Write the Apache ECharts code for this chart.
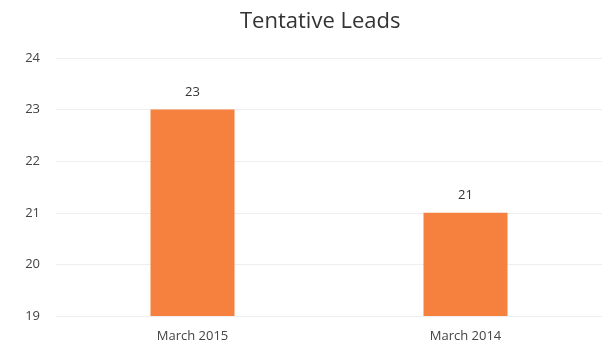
<!DOCTYPE html>
<html><head><meta charset="utf-8">
<script src="https://cdn.jsdelivr.net/npm/echarts@6/dist/echarts.min.js"></script>
<style>html,body{margin:0;padding:0;background:#fff}#c{width:616px;height:358px}</style>
</head><body><div id="c"></div>
<script>
const categories = ["March 2015", "March 2014"];
const leads = [23, 21];
const yTicks = [19, 20, 21, 22, 23, 24];

const chart = echarts.init(document.getElementById('c'));
chart.setOption({
  animation: false,
  backgroundColor: '#fff',
  title: { text: 'Tentative Leads', left: 235, top: 6,
    textStyle: { fontFamily: 'Open Sans', fontWeight: 'normal', fontSize: 22, color: '#333' } },
  grid: { left: 56, right: 14, top: 58, bottom: 42 },
  xAxis: { type: 'category', data: categories,
    axisLine: { show: false }, axisTick: { show: false },
    axisLabel: { fontFamily: 'Open Sans', fontSize: 13, color: '#444', margin: 14 } },
  yAxis: { type: 'value', min: yTicks[0], max: yTicks[yTicks.length-1], interval: 1,
    axisLine: { show: false }, axisTick: { show: false },
    axisLabel: { fontFamily: 'Open Sans', fontSize: 13, color: '#444', margin: 16 },
    splitLine: { lineStyle: { color: '#eeeeee' } } },
  series: [{ type: 'bar', data: leads, barWidth: 84,
    itemStyle: { color: '#F6813F' },
    label: { show: true, position: 'top', distance: 11, fontFamily: 'Open Sans', fontSize: 13, color: '#333' } }]
});
</script></body></html>
